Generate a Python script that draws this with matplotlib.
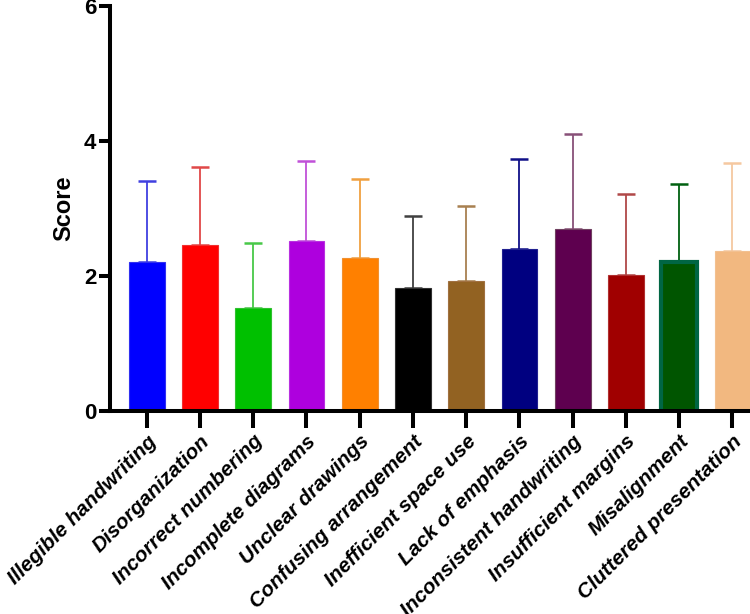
import matplotlib
matplotlib.use("Agg")
import matplotlib.pyplot as plt

categories = ["Illegible handwriting", "Disorganization", "Incorrect numbering",
              "Incomplete diagrams", "Unclear drawings", "Confusing arrangement",
              "Inefficient space use", "Lack of emphasis", "Inconsistent handwriting",
              "Insufficient margins", "Misalignment", "Cluttered presentation"]
means = [2.20, 2.46, 1.53, 2.51, 2.26, 1.82, 1.93, 2.40, 2.70, 2.02, 2.21, 2.37]
upper = [3.40, 3.62, 2.49, 3.71, 3.44, 2.89, 3.03, 3.74, 4.11, 3.21, 3.37, 3.68]
errors = [u - m for u, m in zip(upper, means)]

fills = ["#0000FF", "#FF0000", "#00C000", "#AE00DE", "#FF8000", "#000000",
         "#926222", "#000080", "#5E004F", "#A00000", "#005500", "#F2B880"]
edges = ["#3030F0", "#F03030", "#30C030", "#B830E0", "#F09030", "#303030",
         "#A07040", "#202090", "#704060", "#B03030", "#006644", "#F2C090"]
err_colors = ["#4040E0", "#E04848", "#48C848", "#C050D8", "#F0A040", "#404040",
              "#A88050", "#101088", "#885078", "#B04848", "#006010", "#F5C8A0"]
edge_widths = [0.8] * 12
edge_widths[10] = 3.0

plt.rcParams['font.family'] = ['Liberation Sans', 'DejaVu Sans']

fig = plt.figure(figsize=(7.5, 6.14), dpi=100)
ax = fig.add_axes([0.1467, 0.331, 0.8533, 0.659])

x = list(range(len(categories)))
for i in x:
    ax.bar(i, means[i], width=0.67, color=fills[i], edgecolor=edges[i],
           linewidth=edge_widths[i], zorder=2)
    ax.errorbar(i, means[i], yerr=[[0], [errors[i]]], fmt='none',
                ecolor=err_colors[i], elinewidth=1.3, capsize=6.5, capthick=1.8,
                zorder=1)

ax.set_xlim(-0.69, 11.33)
ax.set_ylim(0, 6)
ax.set_yticks([0, 2, 4, 6])
ax.set_xticks(x)
ax.set_xticklabels(categories, rotation=45, ha='right', rotation_mode='anchor',
                   fontsize=15, fontweight='bold', fontstyle='italic')
for lab in ax.get_yticklabels():
    lab.set_fontsize(16)
    lab.set_fontweight('bold')
ax.set_ylabel("Score", fontsize=17, fontweight='bold', labelpad=6)

for s in ['top', 'right']:
    ax.spines[s].set_visible(False)
for s in ['left', 'bottom']:
    ax.spines[s].set_linewidth(2.9)
ax.tick_params(axis='both', width=2.9, length=8, direction='out', pad=2)
ax.tick_params(axis='x', length=12, pad=3)

fig.savefig("out.png", dpi=100)
